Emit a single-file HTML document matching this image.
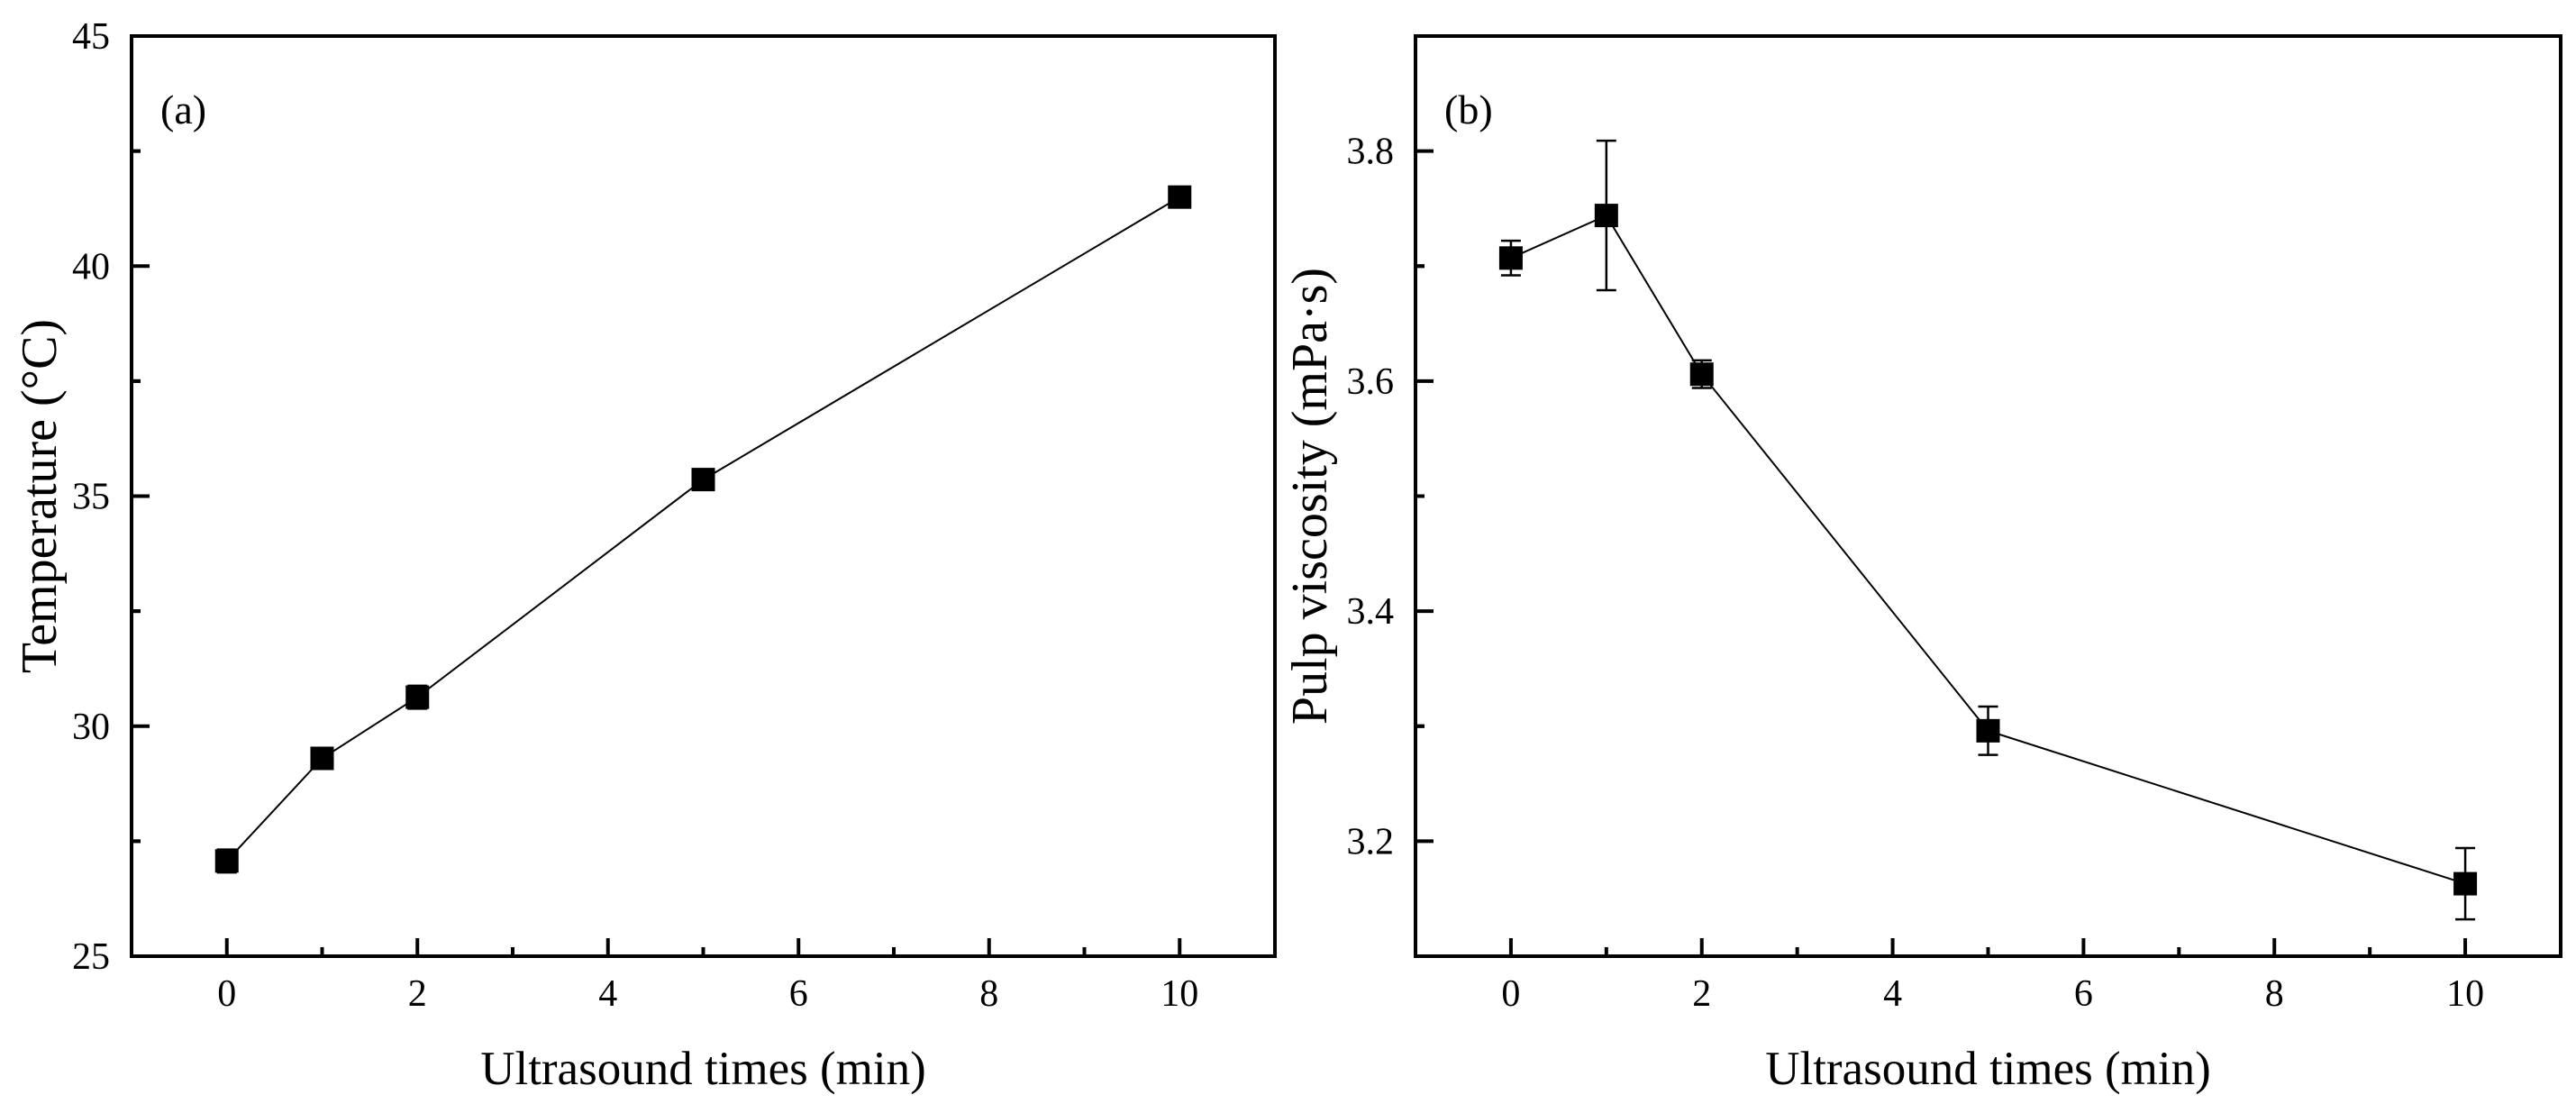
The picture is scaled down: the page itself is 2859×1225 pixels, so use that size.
<!DOCTYPE html>
<html><head><meta charset="utf-8"><style>
html,body{margin:0;padding:0;background:#fff;}
svg{display:block;font-family:"Liberation Serif",serif;}
</style></head><body>
<svg id="chart" width="2859" height="1225" viewBox="0 0 2859 1225" xmlns="http://www.w3.org/2000/svg"></svg>
<script>
const timesA = [0, 1, 2, 5, 10];
const tempValues = [27.07, 29.3, 30.63, 35.36, 41.5];
const tempErrors = [0.25, 0.12, 0.25, 0.22, 0.1];
const tempTicks = [25, 30, 35, 40, 45];
const timesB = [0, 1, 2, 5, 10];
const viscValues = [3.707, 3.744, 3.606, 3.296, 3.163];
const viscErrors = [0.015, 0.065, 0.012, 0.021, 0.031];
const viscTicks = [3.2, 3.4, 3.6, 3.8];
const xTicks = [0, 2, 4, 6, 8, 10];

const NS = 'http://www.w3.org/2000/svg';
const svg = document.getElementById('chart');
function mk(tag, attrs, parent) {
  const e = document.createElementNS(NS, tag);
  for (const k in attrs) e.setAttribute(k, attrs[k]);
  (parent || svg).appendChild(e);
  return e;
}

function panel(cfg) {
  const g = mk('g', {});
  
  
  const {L, R, T, B, x0, x1, y0, y1} = cfg;
  const sx = v => L + (v - x0) / (x1 - x0) * (R - L);
  const sy = v => B - (v - y0) / (y1 - y0) * (B - T);
  const fr = mk('rect', {x: L, y: T, width: R - L, height: B - T, fill: 'none', stroke: '#000', 'stroke-width': 4}, g);
  
  
  for (let v = 0; v <= 10; v++) {
    const major = v % 2 === 0;
    const t = mk('line', {x1: sx(v), x2: sx(v), y1: B, y2: B - (major ? 20 : 10), stroke: '#000', 'stroke-width': 4}, g);
    
    
  }
  xTicks.forEach(v => {
    const t = mk('text', {x: sx(v), y: 1116, 'font-size': 42, 'text-anchor': 'middle'}, g);
    t.textContent = v;
    
    
  });
  const step = cfg.yTicks[1] - cfg.yTicks[0];
  const minors = [];
  cfg.yTicks.forEach(v => { minors.push(v - step / 2); minors.push(v + step / 2); });
  minors.forEach(v => {
    if (v <= y0 || v >= y1) return;
    const t = mk('line', {x1: L, x2: L + 10, y1: sy(v), y2: sy(v), stroke: '#000', 'stroke-width': 4}, g);
    
    
  });
  cfg.yTicks.forEach(v => {
    const t = mk('line', {x1: L, x2: L + 20, y1: sy(v), y2: sy(v), stroke: '#000', 'stroke-width': 4}, g);
    
    
    const lb = mk('text', {x: L - 24, y: sy(v) + 14, 'font-size': 42, 'text-anchor': 'end'}, g);
    lb.textContent = cfg.fmt(v);
    
    
  });
  const xt = mk('text', {x: (L + R) / 2, y: 1203, 'font-size': 53, 'text-anchor': 'middle'}, g);
  xt.textContent = 'Ultrasound times (min)';
  
  
  const yt = mk('text', {x: 0, y: 0, 'font-size': 56, 'text-anchor': 'middle', transform: `translate(${cfg.ytx},${(T + B) / 2}) rotate(-90)`}, g);
  yt.textContent = cfg.ytitle;
  
  
  const pl = mk('text', {x: L + 32, y: 137, 'font-size': 46}, g);
  pl.textContent = cfg.label;
  
  
  const pts = cfg.xs.map((x, i) => sx(x) + ',' + sy(cfg.ys[i])).join(' ');
  const ln = mk('polyline', {points: pts, fill: 'none', stroke: '#000', 'stroke-width': 2}, g);
  
  
  cfg.xs.forEach((x, i) => {
    const cx = sx(x), yv = cfg.ys[i], e = cfg.es[i];
    const eg = mk('g', {stroke: '#000', 'stroke-width': 2.5}, g);
    
    
    mk('line', {x1: cx, x2: cx, y1: sy(yv + e), y2: sy(yv - e)}, eg);
    mk('line', {x1: cx - 11, x2: cx + 11, y1: sy(yv + e), y2: sy(yv + e)}, eg);
    mk('line', {x1: cx - 11, x2: cx + 11, y1: sy(yv - e), y2: sy(yv - e)}, eg);
    const m = mk('rect', {x: cx - 13, y: sy(yv) - 13, width: 26, height: 26, fill: '#000'}, g);
    
    
  });
}

panel({name: 'panel-a-temperature', L: 146, R: 1415, T: 40, B: 1061, x0: -1, x1: 11, y0: 25, y1: 45,
  yTicks: tempTicks, fmt: v => String(v), xs: timesA, ys: tempValues, es: tempErrors,
  ytitle: 'Temperature (°C)', ytx: 62, label: '(a)'});
panel({name: 'panel-b-viscosity', L: 1571, R: 2842, T: 40, B: 1061, x0: -1, x1: 11, y0: 3.1, y1: 3.9,
  yTicks: viscTicks, fmt: v => v.toFixed(1), xs: timesB, ys: viscValues, es: viscErrors,
  ytitle: 'Pulp viscosity (mPa·s)', ytx: 1472, label: '(b)'});
</script>
</body></html>
